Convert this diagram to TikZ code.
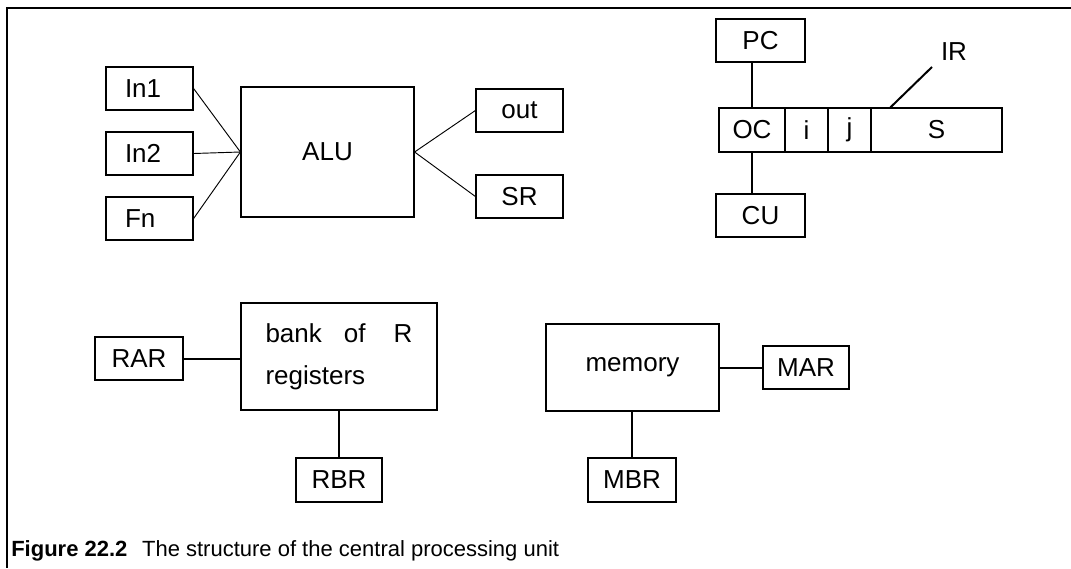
\documentclass[tikz,border=0pt]{standalone}
\usepackage{fontspec}
\setmainfont{Liberation Sans}

\begin{document}
\begin{tikzpicture}[x=0.75pt, y=-0.75pt,
  reg/.style={draw, line width=0.9pt, inner sep=0pt,
    minimum width=65.25pt, minimum height=32.25pt,
    font=\fontsize{19.5}{23}\selectfont},
  inreg/.style={reg, text width=36.75pt, align=left},
  unit/.style={reg, minimum width=129.75pt},
  link/.style={line width=1.5pt},
  wire/.style={line width=0.7pt}]
  \useasboundingbox (0,0) rectangle (1071,568);

  % frame: only the top and left edges are drawn
  \draw[line width=1.1pt] (1071,8) -- (7,8) -- (7,568);

  % ALU with its inputs and outputs
  \node[unit, minimum height=97.5pt] (alu) at (327.5,152) {ALU};
  \node[inreg] (in1) at (149.5,88.5) {In1};
  \node[inreg] (in2) at (149.5,153.5) {In2};
  \node[inreg] (fn) at (149.5,218.5) {Fn};
  \node[reg] (out) at (519.5,110.5) {out};
  \node[reg] (sr) at (519.5,196.5) {SR};
  \foreach \n in {in1,in2,fn}
    \draw[wire] (\n.east) -- (alu.west);
  \foreach \n in {out,sr}
    \draw[wire] (alu.east) -- (\n.west);

  % instruction register, split into its fields
  \node[reg, minimum width=49.5pt, minimum height=33pt] (oc) at (752,130) {OC};
  \node[reg, minimum width=32.25pt, minimum height=33pt] (i) at (806.5,130) {i};
  \node[reg, minimum width=32.25pt, minimum height=33pt] (j) at (849.5,130) {j};
  \node[reg, minimum width=98.25pt, minimum height=33pt] (s) at (936.5,130) {S};
  \node[reg, minimum width=66.75pt] (pc) at (760.5,40.5) {PC};
  \node[reg, minimum width=66.75pt] (cu) at (760.5,215.5) {CU};
  \draw[link] (oc.north) -- (oc.north |- pc.south);
  \draw[link] (oc.south) -- (oc.south |- cu.north);

  % IR pointer
  \coordinate (irtip) at (932,67);
  \draw[link] ([xshift=15pt]s.north west) -- (irtip);
  \node[font=\fontsize{19.5}{23}\selectfont, inner sep=0pt] (irlabel) at (954,52) {IR};

  % register bank
  \node[reg, minimum width=147pt, minimum height=80.25pt, text width=110.25pt,
    align=left, font=\fontsize{19.5}{31.5}\selectfont] (bank) at (339,356.5)
    {bank\hspace*{16.5pt}of\hfill R\\registers};
  \node[reg, minimum width=66pt] (rar) at (139,358.5) {RAR};
  \node[reg, minimum width=64.5pt, minimum height=33pt] (rbr) at (339,480) {RBR};
  \draw[link] (rar.east) -- (rar.east -| bank.west);
  \draw[link] (bank.south) -- (rbr.north);

  % memory
  \node[unit, minimum height=65.25pt] (mem) at (632.5,367.5) {memory};
  \node[reg, minimum width=64.5pt] (mar) at (806,367.5) {MAR};
  \node[reg, minimum width=66pt, minimum height=33pt] (mbr) at (632,480) {MBR};
  \draw[link] (mem.east) -- (mar.west);
  \draw[link] (mbr.north) -- (mbr.north |- mem.south);

  % caption
  \node[anchor=base west, inner sep=0pt, font=\fontsize{16.5}{20}\selectfont]
    (caption) at (11,556)
    {\textbf{Figure 22.2}\hspace{11pt}The structure of the central processing unit};
\end{tikzpicture}
\end{document}
